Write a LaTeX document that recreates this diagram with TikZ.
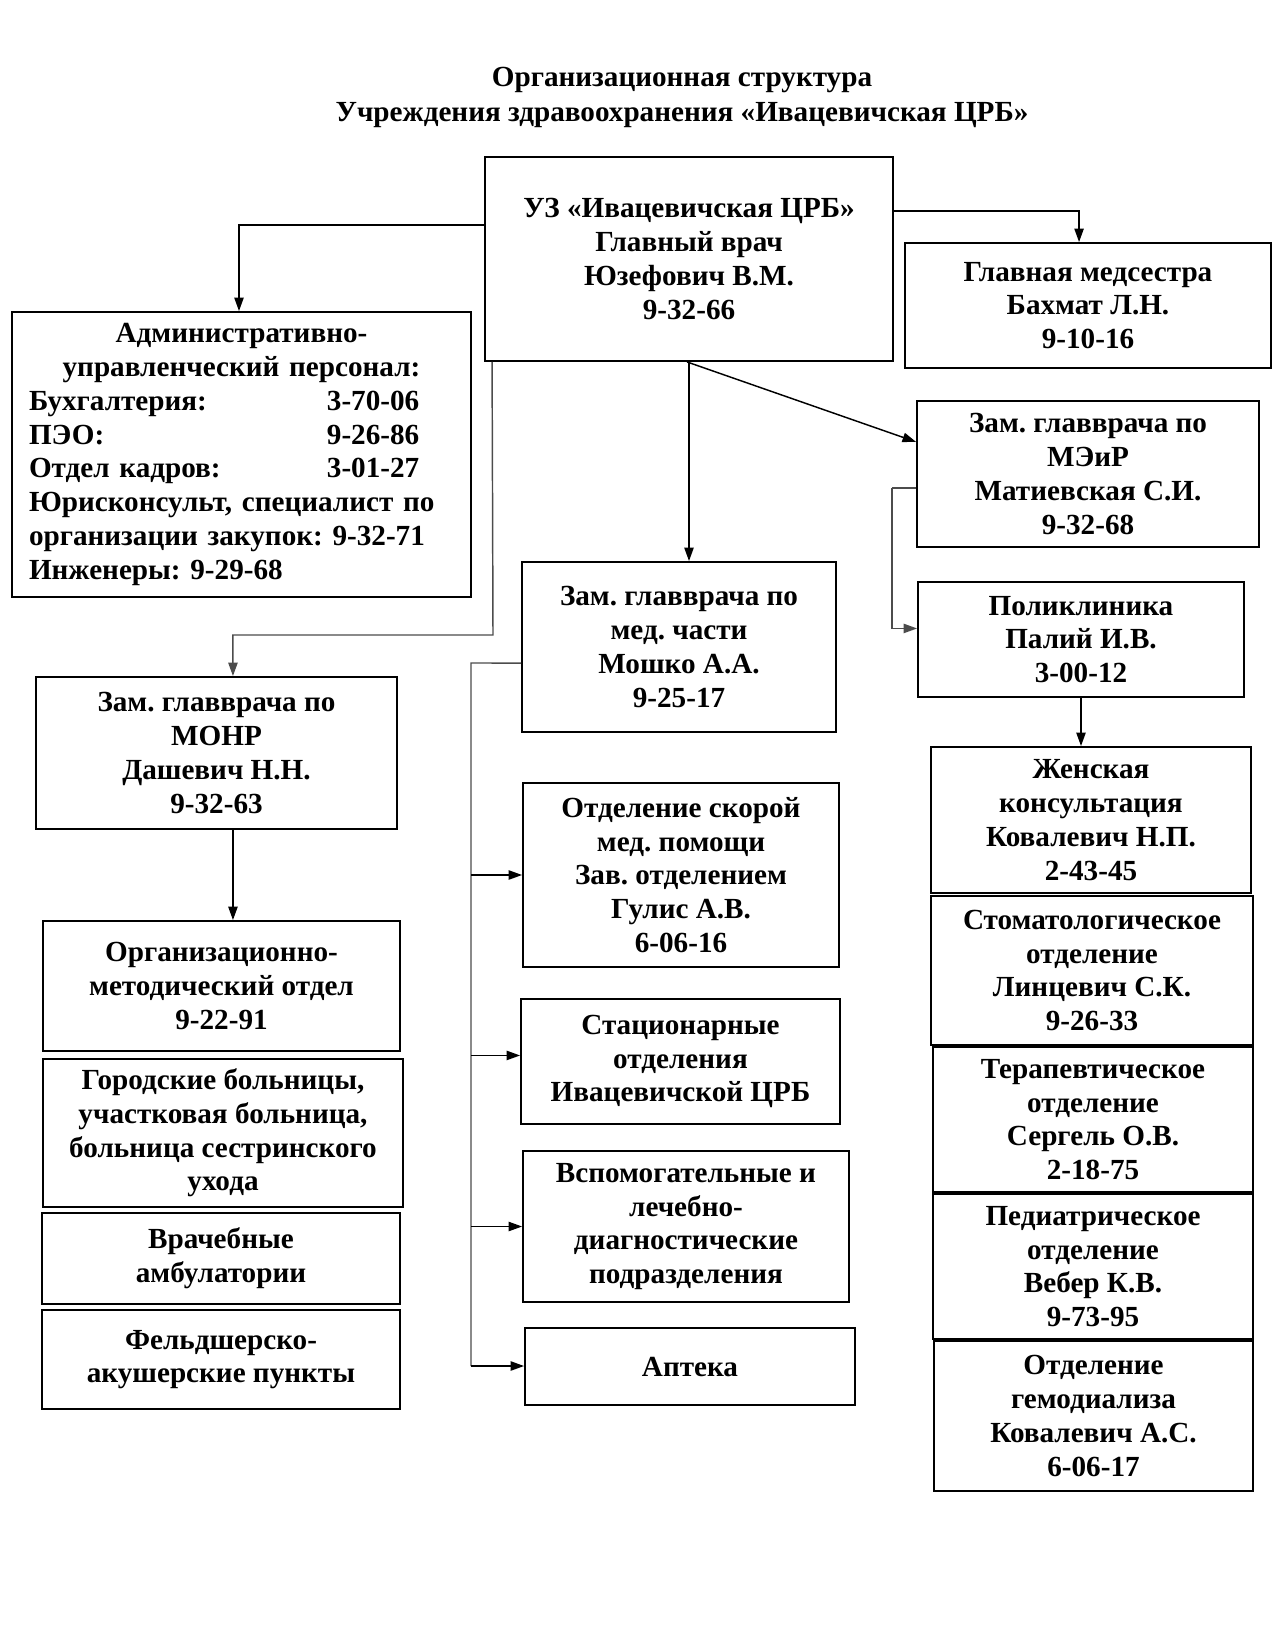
\documentclass[tikz,border=0pt]{standalone}
\usepackage{fontspec}
\setmainfont{Liberation Serif}
\frenchspacing
\usetikzlibrary{arrows.meta}
\newcommand\bx[6]{%
  \node[box, minimum width={(#4-#2)*0.48pt}, minimum height={(#5-#3)*0.48pt}]
    (#1) at ({(#2+#4)/2},{(#3+#5)/2}) {#6};}
\begin{document}
\begin{tikzpicture}[x=0.48pt,y=-0.48pt,
  box/.style={draw, line width=0.9pt, align=center, inner sep=0pt,
    font=\bfseries\fontsize{14}{16.2}\selectfont},
  conn/.style={line width=0.7pt, -{Triangle[length=6.5pt,width=4.5pt]}},
  gconn/.style={conn, draw=black!70},
  gline/.style={line width=0.7pt, draw=black!70}]
\useasboundingbox (0,0) rectangle (1275,1650);
\node[align=center, font=\bfseries\fontsize{14}{16.8}\selectfont] (title) at (682,97)
  {Организационная структура\\Учреждения здравоохранения «Ивацевичская ЦРБ»};
\bx{main}{485}{157}{893}{361}{\fontsize{14}{17}\selectfont УЗ «Ивацевичская ЦРБ»\\Главный врач\\Юзефович В.М.\\9-32-66}
\bx{glavmed}{905}{243}{1271}{368}{Главная медсестра\\Бахмат Л.Н.\\9-10-16}
\node[box, align=left, text width=425*0.48pt, inner xsep=17*0.48pt,
  minimum height={285*0.48pt}] (admin) at (241.5,454.5)
  {\makebox[\hsize]{Административно-}\\
   \makebox[\hsize]{управленческий персонал:}\\
   \makebox[143pt][l]{Бухгалтерия:}3-70-06\\
   \makebox[143pt][l]{ПЭО:}9-26-86\\
   \makebox[143pt][l]{Отдел кадров:}3-01-27\\
   Юрисконсульт, специалист по\\
   организации закупок: 9-32-71\\
   Инженеры: 9-29-68};
\bx{matiev}{917}{401}{1259}{547}{Зам. главврача по\\МЭиР\\Матиевская С.И.\\9-32-68}
\bx{med}{522}{562}{836}{732}{Зам. главврача по\\мед. части\\Мошко А.А.\\9-25-17}
\bx{polik}{918}{582}{1244}{697}{Поликлиника\\Палий И.В.\\3-00-12}
\bx{monr}{36}{677}{397}{829}{Зам. главврача по\\МОНР\\Дашевич Н.Н.\\9-32-63}
\bx{omo}{43}{921}{400}{1051}{Организационно-\\методический отдел\\9-22-91}
\bx{gorod}{43}{1059}{403}{1207}{Городские больницы,\\участковая больница,\\больница сестринского\\ухода}
\bx{vrach}{42}{1213}{400}{1304}{Врачебные\\амбулатории}
\bx{feld}{42}{1310}{400}{1409}{Фельдшерско-\\акушерские пункты}
\bx{skor}{523}{783}{839}{967}{Отделение скорой\\мед. помощи\\Зав. отделением\\Гулис А.В.\\6-06-16}
\bx{stac}{521}{999}{840}{1124}{Стационарные\\отделения\\Ивацевичской ЦРБ}
\bx{vspom}{523}{1151}{849}{1302}{Вспомогательные и\\лечебно-\\диагностические\\подразделения}
\bx{apt}{525}{1328}{855}{1405}{Аптека}
\bx{zhen}{931}{747}{1251}{893}{Женская\\консультация\\Ковалевич Н.П.\\2-43-45}
\bx{stom}{931}{896}{1253}{1045}{Стоматологическое\\отделение\\Линцевич С.К.\\9-26-33}
\bx{terap}{933}{1047}{1253}{1192}{Терапевтическое\\отделение\\Сергель О.В.\\2-18-75}
\bx{ped}{933}{1194}{1253}{1339}{Педиатрическое\\отделение\\Вебер К.В.\\9-73-95}
\bx{gemo}{934}{1341}{1253}{1491}{Отделение\\гемодиализа\\Ковалевич А.С.\\6-06-17}
% connectors
\draw[conn] ([yshift=16.3pt]main.west) -| ([xshift=-1.2pt]admin.north);
\draw[conn] ([yshift=23pt]main.east) -| ([xshift=-4.3pt]glavmed.north);
\draw[conn] (main.south) -- (main.south |- med.north);
\draw[conn] ([xshift=-0.96pt]main.south) -- ([yshift=15.4pt]matiev.west);
\coordinate (j1) at (493,635);
\draw[gconn] ([xshift=3.84pt]main.south west) -- (j1) -| ([xshift=7.9pt]monr.north);
\draw[conn] ([xshift=7.9pt]monr.south) -- ([xshift=7.9pt]monr.south |- omo.north);
\coordinate (bt) at (471,663);
\coordinate (bb) at (471,1366);
\draw[gline] ([yshift=-7.7pt]med.west) -- (bt) -- (bb);
\draw[conn] (bt |- skor.west) -- (skor.west);
\draw[conn] ([yshift=2.9pt]bt |- stac.west) -- ([yshift=2.9pt]stac.west);
\draw[conn] (bt |- vspom.west) -- (vspom.west);
\draw[conn] (bb) -- (bb -| apt.west);
\coordinate (j2) at (892,488);
\draw[gline] (j2 -| matiev.west) -- (j2);
\draw[gconn] (j2) |- ([yshift=5.3pt]polik.west);
\draw[conn] (polik.south) -- (polik.south |- zhen.north);
\end{tikzpicture}
\end{document}
